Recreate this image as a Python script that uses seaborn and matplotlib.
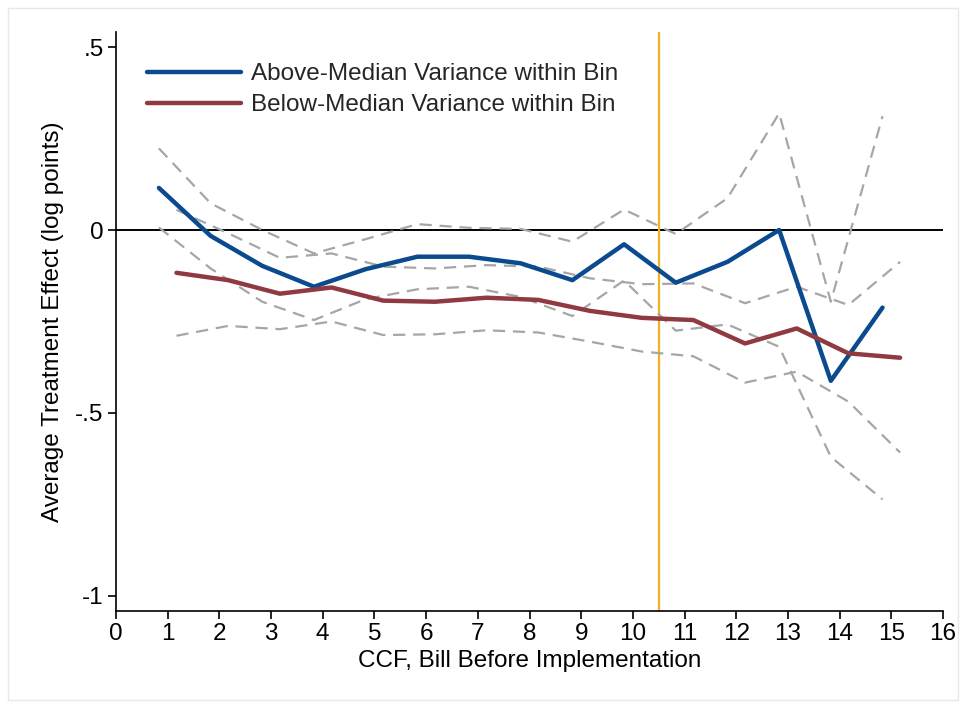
import numpy as np
import pandas as pd
import matplotlib
matplotlib.use("Agg")
import matplotlib.pyplot as plt
from matplotlib.patches import Rectangle
import seaborn as sns

# Bills before implementation (bins 1..15)
bins = np.arange(1, 16)

# Above-median variance within bin: estimate and 95% CI bounds
above_est = [0.115, -0.016, -0.098, -0.155, -0.107, -0.073, -0.073, -0.091,
             -0.137, -0.039, -0.144, -0.087, 0.000, -0.412, -0.212]
above_hi = [0.223, 0.073, 0.000, -0.064, -0.025, 0.016, 0.006, 0.003,
            -0.032, 0.056, -0.011, 0.087, 0.319, -0.196, 0.311]
above_lo = [0.007, -0.105, -0.196, -0.246, -0.189, -0.162, -0.155, -0.183,
            -0.235, -0.138, -0.275, -0.258, -0.319, -0.620, -0.736]

# Below-median variance within bin: estimate and 95% CI bounds
below_est = [-0.117, -0.137, -0.174, -0.157, -0.193, -0.196, -0.185, -0.191,
             -0.221, -0.240, -0.246, -0.310, -0.269, -0.337, -0.349]
below_hi = [0.055, -0.009, -0.076, -0.064, -0.100, -0.105, -0.096, -0.100,
            -0.132, -0.148, -0.146, -0.200, -0.155, -0.205, -0.087]
below_lo = [-0.289, -0.262, -0.271, -0.250, -0.287, -0.285, -0.274, -0.280,
            -0.305, -0.332, -0.345, -0.417, -0.387, -0.469, -0.608]

labels = ["Above-Median Variance within Bin", "Below-Median Variance within Bin"]
x_ticks = list(range(0, 17))
y_ticks = [0.5, 0.0, -0.5, -1.0]
y_tick_labels = [".5", "0", "-.5", "-1"]
cutoff = 10.5

sns.set_theme(style="white")
plt.rcParams["font.family"] = ["Liberation Sans", "DejaVu Sans"]

BLUE = "#0b4a8f"
RED = "#8f3a40"
GRAY = "#a6a6a6"
ORANGE = "#f2b125"
FS = 17.5

offset = 0.17
df = pd.concat([
    pd.DataFrame({"x": bins - offset, "est": above_est, "lo": above_lo,
                  "hi": above_hi, "group": labels[0]}),
    pd.DataFrame({"x": bins + offset, "est": below_est, "lo": below_lo,
                  "hi": below_hi, "group": labels[1]}),
])

fig = plt.figure(figsize=(9.65, 7.04), dpi=100)
ax = fig.add_axes([116 / 965, 1 - 611 / 704, (943 - 116) / 965, (611 - 32) / 704])

# confidence bounds
for g in labels:
    sub = df[df["group"] == g]
    for col in ("lo", "hi"):
        sns.lineplot(data=sub, x="x", y=col, ax=ax, color=GRAY, lw=1.6,
                     dashes=False, linestyle=(0, (5.5, 3.5)), legend=False,
                     zorder=2)

ax.axhline(0, color="black", lw=1.4, zorder=1)
ax.axvline(cutoff, color=ORANGE, lw=1.6, zorder=1)

sns.lineplot(data=df, x="x", y="est", hue="group", hue_order=labels,
             palette=[BLUE, RED], lw=3.2, ax=ax, zorder=3)

ax.set_xlim(0, 16)
ax.set_ylim(-1.041, 0.541)
ax.set_xticks(x_ticks)
ax.set_xticklabels([str(t) for t in x_ticks])
ax.set_yticks(y_ticks)
ax.set_yticklabels(y_tick_labels)

for side in ("top", "right"):
    ax.spines[side].set_visible(False)
for side in ("left", "bottom"):
    ax.spines[side].set_color("black")
    ax.spines[side].set_linewidth(1.2)

ax.tick_params(axis="both", direction="out", length=6, width=1.2,
               color="black", labelsize=FS, pad=3, labelcolor="black",
               bottom=True, left=True)
ax.set_xlabel("CCF, Bill Before Implementation", fontsize=FS, labelpad=3,
              color="black")
ax.set_ylabel("Average Treatment Effect (log points)", fontsize=FS,
              labelpad=8, color="black")

leg = ax.legend(loc="upper left", bbox_to_anchor=(0.0, 1.0), frameon=False,
                fontsize=FS, handlelength=3.87, handletextpad=0.4,
                labelspacing=0.38, borderaxespad=0.88)
for line in leg.get_lines():
    line.set_linewidth(3.2)

# light outer frame
fig.patches.append(Rectangle((8 / 965, 4 / 704), 950 / 965, 692 / 704,
                             transform=fig.transFigure, fill=False,
                             edgecolor="#e8e8e8", lw=1.0))

fig.savefig("out.png", dpi=100, facecolor="white")
